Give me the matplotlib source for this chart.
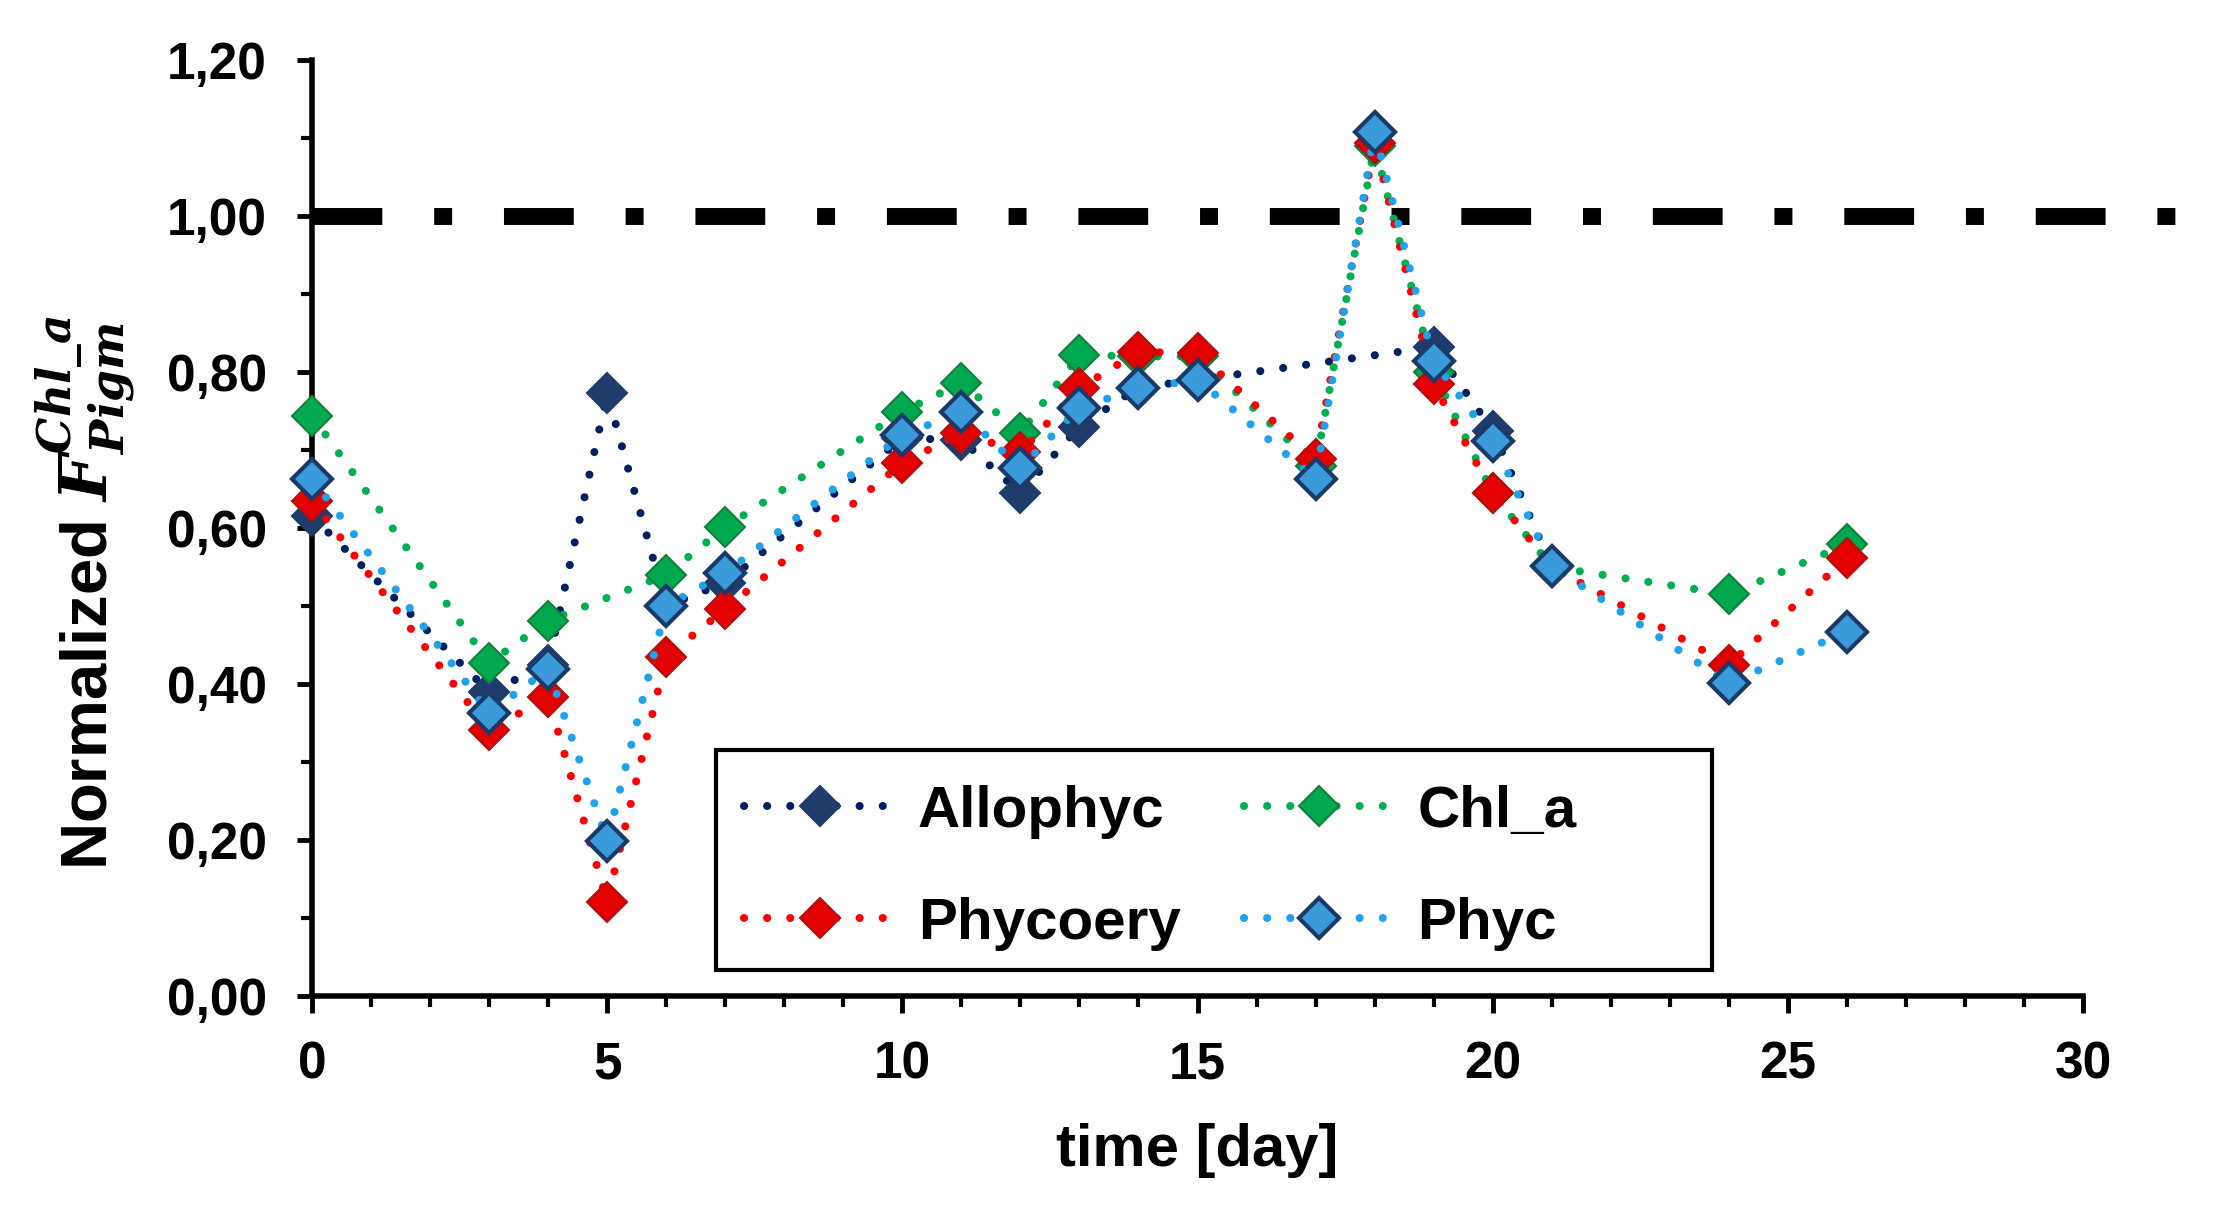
import matplotlib
matplotlib.use("Agg")
import matplotlib.pyplot as plt
from matplotlib.patches import Rectangle

plt.rcParams['font.family'] = ['Liberation Sans', 'DejaVu Sans']
plt.rcParams['font.weight'] = 'bold'
plt.rcParams['mathtext.fontset'] = 'dejavuserif'

# --- data ---
days_all = [0, 3, 4, 5, 6, 7, 10, 11, 12, 13, 14, 15, 19, 20, 21]
allophyc = [0.615, 0.39, 0.425, 0.773, 0.50, 0.53, 0.715, 0.713, 0.645, 0.73, 0.78, 0.79, 0.832, 0.725, 0.55]

days = [0, 3, 4, 5, 6, 7, 10, 11, 12, 13, 14, 15, 17, 18, 19, 20, 21, 24, 26]
chl_a = [0.744, 0.427, 0.481, None, 0.540, 0.601, 0.749, 0.786, 0.722, 0.822, 0.82, 0.82,
         0.68, 1.09, 0.80, 0.645, 0.55, 0.515, 0.579]
phycoery = [0.635, 0.341, 0.383, 0.121, 0.435, 0.496, 0.683, 0.722, 0.697, 0.779, 0.826, 0.824,
            0.688, 1.093, 0.784, 0.645, 0.55, 0.425, 0.561]
phyc = [0.663, 0.363, 0.419, 0.199, 0.50, 0.542, 0.719, 0.749, 0.677, 0.754, 0.779, 0.79,
        0.663, 1.108, 0.814, 0.712, 0.551, 0.401, 0.467]

# Chl_a has no point on day 5
chl_days = [d for d, v in zip(days, chl_a) if v is not None]
chl_vals = [v for v in chl_a if v is not None]

reference_level = 1.0
ref_span = [0, 31.65]

xticks = [0, 5, 10, 15, 20, 25, 30]
yticks = [0.0, 0.2, 0.4, 0.6, 0.8, 1.0, 1.2]
ytick_labels = ['0,00', '0,20', '0,40', '0,60', '0,80', '1,00', '1,20']

fig = plt.figure(figsize=(22.13, 12.27), dpi=100)
ax = fig.add_axes([0.14099, 0.18826, 0.80027, 0.76284])

dot = (0, (0.01, 2.86))
common = dict(lw=5.8, ls=dot, dash_capstyle='round', marker='D', ms=20, clip_on=False)

l1, = ax.plot(days_all, allophyc, color='#002060', mfc='#1F3B6A', mec='#1F3B6A', mew=1.5,
              label='Allophyc', zorder=3, **common)
l2, = ax.plot(chl_days, chl_vals, color='#00B050', mfc='#00A84F', mec='#15803A', mew=1.5,
              label='Chl_a', zorder=4, **common)
l3, = ax.plot(days, phycoery, color='#FF0000', mfc='#E30000', mec='#B31010', mew=1.5,
              label='Phycoery', zorder=5, **common)
l4, = ax.plot(days, phyc, color='#1EA2EA', mfc='#3A9ADA', mec='#1C3A68', mew=3,
              label='Phyc', zorder=6, **common)

ax.plot(ref_span, [reference_level, reference_level], color='black', lw=12.2,
        ls=(0, (4.12, 3.06, 1.06, 3.06)), dash_capstyle='butt', clip_on=False, zorder=2)

ax.set_xlim(0, 30)
ax.set_ylim(0, 1.2)
ax.set_xticks(xticks)
ax.set_xticks(range(0, 31), minor=True)
ax.set_yticks(yticks)
ax.set_yticklabels(ytick_labels)
ax.set_yticks([0.1, 0.3, 0.5, 0.7, 0.9, 1.1], minor=True)

for s in ['top', 'right']:
    ax.spines[s].set_visible(False)
for s in ['left', 'bottom']:
    ax.spines[s].set_linewidth(4)

ax.tick_params(axis='x', which='major', direction='out', length=12, width=3.5, labelsize=37, pad=20)
ax.tick_params(axis='x', which='minor', direction='out', length=8, width=3)
ax.tick_params(axis='y', which='major', direction='out', length=10.5, width=3.5, labelsize=37, pad=22)
ax.tick_params(axis='y', which='minor', direction='out', length=8, width=3)
for t in ax.get_xticklabels() + ax.get_yticklabels():
    t.set_fontweight('bold')

ax.set_xlabel('time [day]', fontsize=43, fontweight='bold')
ax.xaxis.set_label_coords(0.5, -0.136)

fig.text(86 / 2213, 1 - 593 / 1227,
         r'Normalized $\mathbfit{F}_{\mathbfit{Pigm}}^{\mathbfit{Chl\_a}}$',
         rotation=90, ha='center', va='center', fontsize=47, fontweight='bold')

# legend (Excel-style wide box drawn separately)
ax.add_patch(Rectangle((0.2281, 0.0278), 0.5624, 0.235, transform=ax.transAxes,
                       facecolor='white', edgecolor='black', lw=3, zorder=7, clip_on=False))
leg = ax.legend([l1, l3, l2, l4], ['Allophyc', 'Phycoery', 'Chl_a', 'Phyc'], ncol=2,
                loc='center left', bbox_to_anchor=(0.2439, 0.137), frameon=False,
                prop={'size': 42, 'weight': 'bold'}, handlelength=2.6, handletextpad=0.38,
                columnspacing=1.08, labelspacing=0.99, borderpad=0, borderaxespad=0)
leg.set_zorder(8)

fig.savefig('out.png', dpi=100)
